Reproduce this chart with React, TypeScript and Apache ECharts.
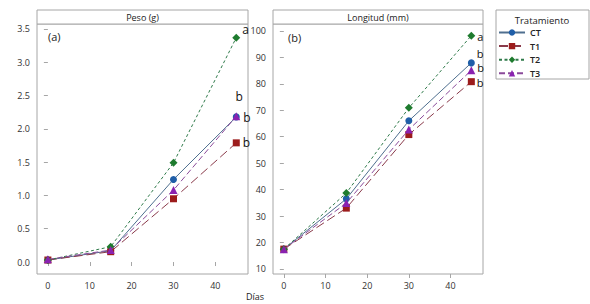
import React, { useEffect, useRef } from "react";
import * as echarts from "echarts";

const dias = [0, 15, 30, 45];
const treatments = ["CT", "T1", "T2", "T3"];

const pesoCT = [0.03, 0.17, 1.24, 2.18];
const pesoT1 = [0.03, 0.155, 0.95, 1.79];
const pesoT2 = [0.03, 0.23, 1.49, 3.37];
const pesoT3 = [0.04, 0.18, 1.08, 2.19];

const longCT = [17.5, 36.5, 66, 87.9];
const longT1 = [17.5, 33, 60.8, 80.8];
const longT2 = [17.5, 38.7, 70.9, 98.2];
const longT3 = [17.5, 34.9, 62.7, 85.1];

const pesoLetters = ["b", "b", "a", "b"];
const longLetters = ["b", "b", "a", "b"];

const xTicks = [0, 10, 20, 30, 40];
const pesoTicks = [0, 0.5, 1.0, 1.5, 2.0, 2.5, 3.0, 3.5];
const longTicks = [10, 20, 30, 40, 50, 60, 70, 80, 90, 100];

const colors: Record<string, { marker: string; line: string; symbol: string; type: any; size: number }> = {
  CT: { marker: "#1f5ea8", line: "#4f6f8f", symbol: "circle", type: "solid", size: 7 },
  T1: { marker: "#9c1c1c", line: "#8a3a4a", symbol: "rect", type: [9, 4], size: 7 },
  T2: { marker: "#1e7b2e", line: "#2f7a4a", symbol: "diamond", type: [3, 2.5], size: 8 },
  T3: { marker: "#8a22b0", line: "#8a4a9a", symbol: "triangle", type: [6, 3], size: 8 },
};

export default function App() {
  const ref = useRef<HTMLDivElement>(null);
  useEffect(() => {
    document.body.style.margin = "0";
    const chart = echarts.init(ref.current!, undefined, { renderer: "svg" });
    const font = "'Open Sans', 'Noto Sans', sans-serif";
    const gray = "#a6a6a6";

    const pesoVals = [pesoCT, pesoT1, pesoT2, pesoT3];
    const longVals = [longCT, longT1, longT2, longT3];
    const pesoLabelPos: any[] = [
      { position: "top", offset: [3, -6] },
      { position: "right", offset: [-2, 0] },
      { position: "right", offset: [-3, -8] },
      { position: "right", offset: [-2, 1] },
    ];
    const longLabelPos: any[] = [
      { position: "right", offset: [-3, -9] },
      { position: "right", offset: [-3, 1] },
      { position: "right", offset: [-3, 1] },
      { position: "right", offset: [-3, -3] },
    ];

    const mkSeries = (vals: number[][], letters: string[], pos: any[], idx: number) =>
      treatments.map((t, i) => {
        const c = colors[t];
        return {
          name: t,
          type: "line",
          xAxisIndex: idx,
          yAxisIndex: idx,
          symbol: c.symbol,
          symbolSize: c.size,
          z: 2 + i,
          itemStyle: { color: c.marker },
          lineStyle: { color: c.line, width: 1, type: c.type },
          data: dias.map((d, j) => {
            const item: any = { value: [d, vals[i][j]] };
            if (j === dias.length - 1) {
              item.label = {
                show: true,
                formatter: letters[i],
                fontSize: idx === 1 ? 11 : 12,
                color: "#111",
                fontFamily: font,
                ...pos[i],
              };
            }
            return item;
          }),
        };
      });

    const xAxis = (gi: number) => ({
      type: "value",
      gridIndex: gi,
      min: -2.6,
      max: 47.8,
      splitLine: { show: false },
      axisLine: { show: false },
      axisTick: { show: true, customValues: xTicks, length: 4, lineStyle: { color: gray } },
      axisLabel: { customValues: xTicks, fontSize: 9, color: "#333", fontFamily: font, margin: 7 },
    });

    const yAxis = (gi: number, min: number, max: number, ticks: number[], dec: number) => ({
      type: "value",
      gridIndex: gi,
      min,
      max,
      splitLine: { show: false },
      axisLine: { show: false },
      axisTick: { show: true, customValues: ticks, length: 4, lineStyle: { color: gray } },
      axisLabel: {
        customValues: ticks,
        fontSize: 9,
        color: "#333",
        fontFamily: font,
        margin: 7,
        formatter: (v: number) => v.toFixed(dec),
      },
    });

    chart.setOption({
      animation: false,
      backgroundColor: "#fff",
      grid: [
        { left: 37, top: 24, width: 211, height: 250, show: true, borderColor: gray, borderWidth: 1, backgroundColor: "#fff" },
        { left: 273, top: 24, width: 210, height: 250, show: true, borderColor: gray, borderWidth: 1, backgroundColor: "#fff" },
      ],
      xAxis: [xAxis(0), xAxis(1)],
      yAxis: [yAxis(0, -0.18, 3.575, pesoTicks, 1), yAxis(1, 8.1, 102.6, longTicks, 0)],
      legend: {
        orient: "vertical",
        left: 498,
        top: 28,
        padding: 0,
        itemWidth: 26,
        itemHeight: 8,
        itemGap: 4.6,
        data: treatments,
        textStyle: { fontSize: 9, fontWeight: 600, color: "#222", fontFamily: font },
      },
      graphic: [
        { type: "rect", shape: { x: 37, y: 10, width: 211, height: 14 }, style: { fill: "#fff", stroke: gray, lineWidth: 1 } },
        { type: "rect", shape: { x: 273, y: 10, width: 210, height: 14 }, style: { fill: "#fff", stroke: gray, lineWidth: 1 } },
        { type: "text", x: 142.5, y: 17, style: { text: "Peso (g)", fontSize: 9, fill: "#222", fontFamily: font, align: "center", verticalAlign: "middle" } },
        { type: "text", x: 378, y: 17, style: { text: "Longitud (mm)", fontSize: 9, fill: "#222", fontFamily: font, align: "center", verticalAlign: "middle" } },
        { type: "text", x: 48, y: 36, style: { text: "(a)", fontSize: 11, fill: "#222", fontFamily: font, verticalAlign: "middle" } },
        { type: "text", x: 288, y: 37, style: { text: "(b)", fontSize: 11, fill: "#222", fontFamily: font, verticalAlign: "middle" } },
        { type: "text", x: 255, y: 296, style: { text: "Días", fontSize: 9, fill: "#222", fontFamily: font, align: "center", verticalAlign: "middle" } },
        { type: "rect", shape: { x: 496, y: 10, width: 93, height: 69 }, style: { fill: "none", stroke: gray, lineWidth: 1 } },
        { type: "text", x: 542, y: 20, style: { text: "Tratamiento", fontSize: 9.5, fill: "#222", fontFamily: font, align: "center", verticalAlign: "middle" } },
      ],
      series: [
        ...mkSeries(pesoVals, pesoLetters, pesoLabelPos, 0),
        ...mkSeries(longVals, longLetters, longLabelPos, 1),
      ],
    });
    return () => chart.dispose();
  }, []);
  return <div ref={ref} style={{ width: 590, height: 304 }} />;
}
